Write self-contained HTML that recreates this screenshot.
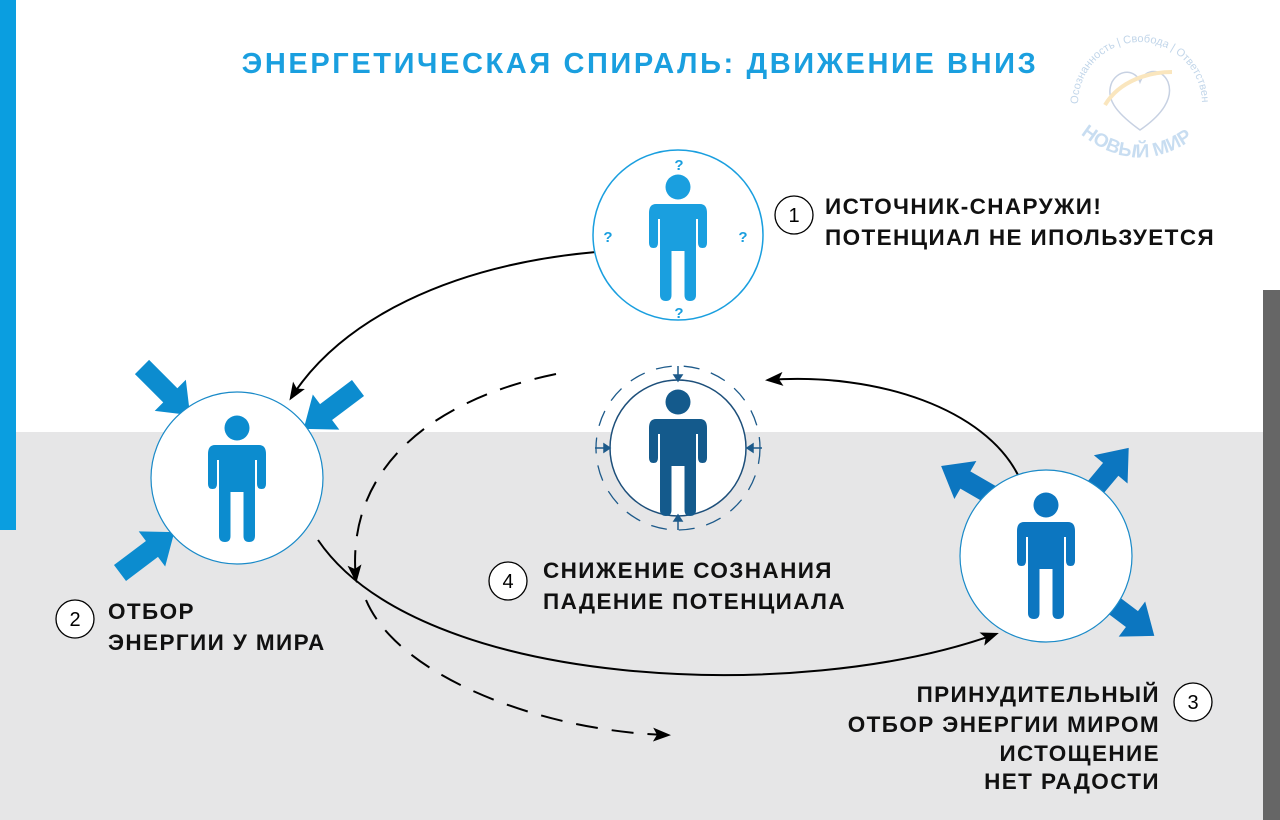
<!DOCTYPE html>
<html><head><meta charset="utf-8"><style>
body{margin:0;width:1280px;height:820px;overflow:hidden;font-family:"Liberation Sans",sans-serif;}
svg{display:block}
</style></head><body>
<svg width="1280" height="820" viewBox="0 0 1280 820" xmlns="http://www.w3.org/2000/svg">
<defs>
<g id="p">
<circle cx="0" cy="0" r="12.5"/>
<path d="M-22,17 H22 Q29,17 29,26 V56 Q29,61 24.5,61 Q20,61 20,56 V32 H18 V108 Q18,114 12,114 Q6.5,114 6.5,108 V64 H-6.5 V108 Q-6.5,114 -12,114 Q-18,114 -18,108 V32 H-20 V56 Q-20,61 -24.5,61 Q-29,61 -29,56 V26 Q-29,17 -22,17 Z"/>
</g>
<polygon id="ba" points="0,-10 40,-10 40,-22 68,0 40,22 40,10 0,10"/>
<marker id="ah" markerWidth="18" markerHeight="14" refX="15" refY="7" orient="auto" markerUnits="userSpaceOnUse"><path d="M0,0 L18,7 L0,14 L4,7 Z" fill="#000"/></marker>
</defs>
<rect width="1280" height="820" fill="#fff"/>
<rect y="432" width="1280" height="388" fill="#e6e6e7"/>
<rect x="0" y="0" width="16" height="530" fill="#0a9ee0"/>
<rect x="1263" y="290" width="17" height="530" fill="#666"/>

<text x="640" y="73" text-anchor="middle" font-size="29" font-weight="bold" fill="#1a9fdf" letter-spacing="2.6">ЭНЕРГЕТИЧЕСКАЯ СПИРАЛЬ: ДВИЖЕНИЕ ВНИЗ</text>

<!-- logo -->
<g opacity="0.55">
<defs><path id="lc" d="M1078,104 A62,62 0 1,1 1202,104"/></defs>
<text font-size="11" fill="#8fb4d8"><textPath href="#lc">Осознанность | Свобода | Ответственность</textPath></text>
<path d="M1140,130 C1115,112 1105,98 1112,82 C1120,68 1136,70 1140,82 C1145,68 1162,68 1168,82 C1174,98 1162,115 1140,130 Z" fill="none" stroke="#9aaccc" stroke-width="1.5"/>
<path d="M1105,105 C1120,80 1150,72 1172,72" fill="none" stroke="#f6d28a" stroke-width="4"/>
<path id="lb" d="M1070,125 Q1140,190 1210,125" fill="none"/>
<text font-size="19" font-weight="bold" fill="#9cc3e6"><textPath href="#lb" startOffset="14">НОВЫЙ МИР</textPath></text>
</g>

<!-- connectors -->
<g fill="none" stroke="#000" stroke-width="2">
<path d="M596,252 C450,265 340,320 291,398" marker-end="url(#ah)"/>
<path d="M318,540 C420,690 800,705 996,634" marker-end="url(#ah)"/>
<path d="M1018,475 C985,410 880,372 768,380" marker-end="url(#ah)"/>
<path d="M556,374 C430,400 345,470 356,580" stroke-dasharray="22,14" marker-end="url(#ah)"/>
<path d="M366,600 C400,680 550,732 668,735" stroke-dasharray="22,14" marker-end="url(#ah)"/>
</g>

<!-- circle 1 -->
<circle cx="678" cy="235" r="85" fill="#fff" stroke="#1a9fdf" stroke-width="1.5"/>
<g fill="#1a9fdf"><use href="#p" transform="translate(678,187)"/></g>
<g font-size="15" font-weight="bold" fill="#1a9fdf" text-anchor="middle">
<text x="679" y="170">?</text><text x="608" y="242">?</text><text x="743" y="242">?</text><text x="679" y="318">?</text></g>

<!-- circle 2 -->
<g fill="#0c8ccf">
<use href="#ba" transform="translate(142,367) rotate(45)"/>
<use href="#ba" transform="translate(358,388) rotate(143)"/>
<use href="#ba" transform="translate(120,573) rotate(-37)"/>
</g>
<circle cx="237" cy="478" r="86" fill="#fff" stroke="#1a8ac8" stroke-width="1.2"/>
<g fill="#0c8ccf"><use href="#p" transform="translate(237,428)"/></g>

<!-- circle 3 -->
<g fill="#0c76c0">
<use href="#ba" transform="translate(1000,500) rotate(-150)"/>
<use href="#ba" transform="translate(1085,500) rotate(-50)"/>
<use href="#ba" transform="translate(1100,595) rotate(37)"/>
</g>
<circle cx="1046" cy="556" r="86" fill="#fff" stroke="#1a8ac8" stroke-width="1.2"/>
<g fill="#0c76c0"><use href="#p" transform="translate(1046,505)"/></g>

<!-- circle 4 -->
<circle cx="678" cy="448" r="82" fill="none" stroke="#1d5a8a" stroke-width="1.3" stroke-dasharray="16,12"/>
<circle cx="678" cy="448" r="68" fill="#fff" stroke="#1d4f7a" stroke-width="1.5"/>
<g fill="#145a8c"><use href="#p" transform="translate(678,402)"/></g>
<g stroke="#1d5a8a" stroke-width="1.5" fill="#1d5a8a">
<line x1="678" y1="366" x2="678" y2="378"/><path d="M674,375 L678,381 L682,375Z"/>
<line x1="678" y1="530" x2="678" y2="518"/><path d="M674,521 L678,515 L682,521Z"/>
<line x1="595" y1="448" x2="607" y2="448"/><path d="M604,444 L610,448 L604,452Z"/>
<line x1="762" y1="448" x2="750" y2="448"/><path d="M753,444 L747,448 L753,452Z"/>
</g>

<!-- labels -->
<g fill="#fff" stroke="#000" stroke-width="1.3">
<circle cx="794" cy="215" r="19"/><circle cx="75" cy="619" r="19"/>
<circle cx="508" cy="581" r="19"/><circle cx="1193" cy="702" r="19"/>
</g>
<g font-size="20" fill="#000" text-anchor="middle">
<text x="794" y="222">1</text><text x="75" y="626">2</text><text x="508" y="588">4</text><text x="1193" y="709">3</text>
</g>
<g font-size="22.5" font-weight="bold" fill="#111" letter-spacing="1.4">
<text x="825" y="214">ИСТОЧНИК-СНАРУЖИ!</text>
<text x="825" y="245">ПОТЕНЦИАЛ НЕ ИПОЛЬЗУЕТСЯ</text>
<text x="108" y="619">ОТБОР</text>
<text x="108" y="650">ЭНЕРГИИ У МИРА</text>
<text x="543" y="578">СНИЖЕНИЕ СОЗНАНИЯ</text>
<text x="543" y="609">ПАДЕНИЕ ПОТЕНЦИАЛА</text>
<g text-anchor="end">
<text x="1160" y="702">ПРИНУДИТЕЛЬНЫЙ</text>
<text x="1160" y="732">ОТБОР ЭНЕРГИИ МИРОМ</text>
<text x="1160" y="761">ИСТОЩЕНИЕ</text>
<text x="1160" y="789">НЕТ РАДОСТИ</text>
</g>
</g>
</svg>
</body></html>
